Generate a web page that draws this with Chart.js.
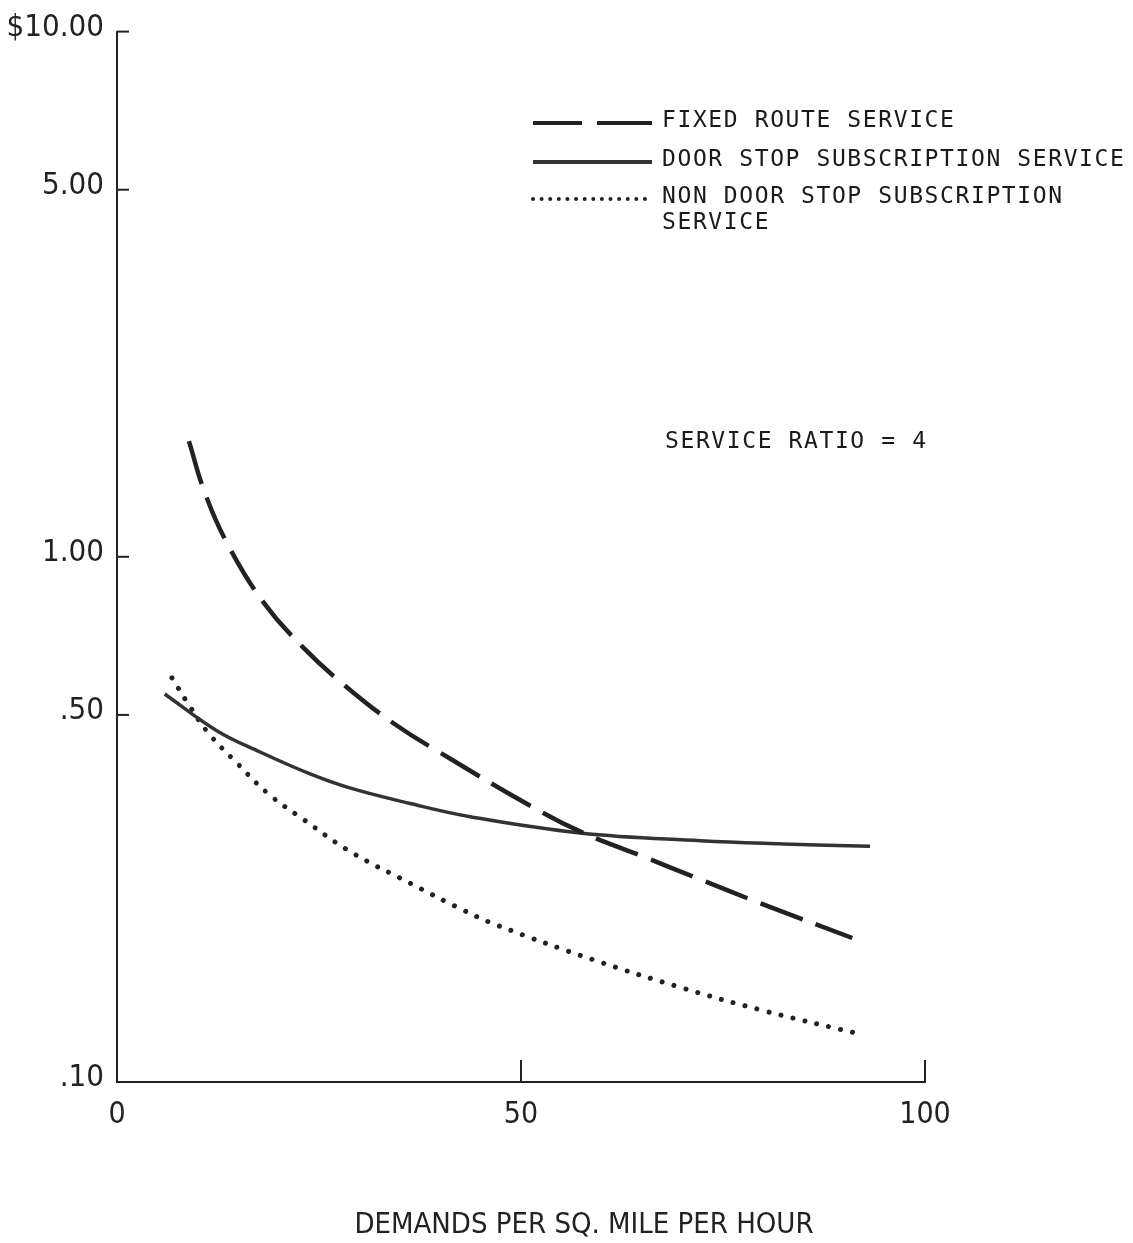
<!DOCTYPE html>
<html>
<head>
<meta charset="utf-8">
<title>Cost per demand vs demand density</title>
<script src="https://cdn.jsdelivr.net/npm/chart.js@4.4.0/dist/chart.umd.min.js"></script>
<style>
  html, body { margin: 0; padding: 0; background: #fff; }
</style>
</head>
<body>
<canvas id="myChart" width="1133" height="1243"></canvas>
<script>
// axis ticks
var xTicks = [0, 50, 100];
var yTicks = [0.1, 0.5, 1, 5, 10];
var yTickLabels = ['.10', '.50', '1.00', '5.00', '$10.00'];
var xTitle = 'DEMANDS PER SQ. MILE PER HOUR';
var noteText = 'SERVICE RATIO = 4';

// series names (\n = line break in the legend)
var seriesNames = ['FIXED ROUTE SERVICE', 'DOOR STOP SUBSCRIPTION SERVICE', 'NON DOOR STOP SUBSCRIPTION\nSERVICE'];

// fixed route service (dashed)
var fixedX = [8.9, 10.9, 13.7, 18.2, 23.0, 28.0, 34.3, 41.2, 51.1, 57.3, 65.3, 72.2, 79.6, 91.0];
var fixedY = [1.66, 1.32, 1.056, 0.816, 0.673, 0.572, 0.481, 0.413, 0.336, 0.300, 0.268, 0.243, 0.219, 0.188];

// door stop subscription service (solid)
var doorX = [5.9, 12.4, 17.7, 23.9, 28.8, 36.3, 43.7, 57.3, 72.2, 82.4, 93.2];
var doorY = [0.548, 0.466, 0.425, 0.386, 0.363, 0.339, 0.320, 0.298, 0.288, 0.284, 0.281];

// non door stop subscription service (dotted)
var nonDoorX = [6.8, 8.8, 11.3, 14.9, 18.7, 23.1, 28.8, 36.3, 42.7, 47.0, 58.9, 70.0, 79.8, 92.3];
var nonDoorY = [0.588, 0.525, 0.462, 0.404, 0.354, 0.316, 0.275, 0.239, 0.213, 0.199, 0.171, 0.151, 0.137, 0.123];

var ink = '#222';
var gothic = "'DejaVu Sans Condensed', 'DejaVu Sans', sans-serif";
var mono = "'DejaVu Sans Mono', monospace";

function toPoints(xs, ys) {
  var pts = [];
  for (var i = 0; i < xs.length; i++) {
    pts.push({ x: xs[i], y: ys[i] });
  }
  return pts;
}

// short tick marks drawn inside the plot, like the original
var inwardTicks = {
  id: 'inwardTicks',
  afterDraw: function (chart) {
    var ctx = chart.ctx;
    var area = chart.chartArea;
    ctx.save();
    ctx.strokeStyle = ink;
    ctx.lineWidth = 2;
    yTicks.forEach(function (v) {
      if (v === yTicks[0]) return;
      var y = chart.scales.y.getPixelForValue(v);
      ctx.beginPath();
      ctx.moveTo(area.left, y);
      ctx.lineTo(area.left + 12, y);
      ctx.stroke();
    });
    xTicks.forEach(function (v) {
      if (v === xTicks[0]) return;
      var x = chart.scales.x.getPixelForValue(v);
      ctx.beginPath();
      ctx.moveTo(x, area.bottom);
      ctx.lineTo(x, area.bottom - 22);
      ctx.stroke();
    });
    // x axis title sits right of the axis centre in the original
    ctx.font = '29px ' + gothic;
    ctx.fillStyle = ink;
    ctx.textAlign = 'center';
    ctx.textBaseline = 'middle';
    ctx.fillText(xTitle, 584, 1225);
    ctx.restore();
  }
};

// legend block and the "service ratio" note
var sideLegend = {
  id: 'sideLegend',
  afterDraw: function (chart) {
    var ctx = chart.ctx;
    var rows = [
      { sampleY: 123, textY: 121, dash: [49, 15, 55, 20], width: 4, cap: 'butt' },
      { sampleY: 162, textY: 160, dash: [], width: 4, cap: 'butt' },
      { sampleY: 199, textY: 197, dash: [0.01, 8.6], width: 4, cap: 'round' }
    ];
    ctx.save();
    ctx.font = '23px ' + mono;
    ctx.letterSpacing = '1.6px';
    ctx.fillStyle = '#1a1a1a';
    ctx.textBaseline = 'middle';
    ctx.textAlign = 'left';
    chart.data.datasets.forEach(function (ds, i) {
      var r = rows[i];
      ctx.beginPath();
      ctx.setLineDash(r.dash);
      ctx.lineCap = r.cap;
      ctx.lineWidth = r.width;
      ctx.strokeStyle = ds.borderColor;
      ctx.moveTo(533, r.sampleY);
      ctx.lineTo(652, r.sampleY);
      ctx.stroke();
      ds.label.split('\n').forEach(function (line, k) {
        ctx.fillText(line, 662, r.textY + k * 26);
      });
    });
    ctx.fillText(noteText, 665, 442);
    ctx.restore();
  }
};

const ctx = document.getElementById('myChart');

new Chart(ctx, {
  type: 'line',
  data: {
    datasets: [{
      label: seriesNames[0],
      data: toPoints(fixedX, fixedY),
      borderColor: ink,
      borderWidth: 4.5,
      borderDash: [45, 14],
      pointRadius: 0,
      fill: false,
      tension: 0.4
    }, {
      label: seriesNames[1],
      data: toPoints(doorX, doorY),
      borderColor: '#333',
      borderWidth: 3.5,
      pointRadius: 0,
      fill: false,
      tension: 0.4
    }, {
      label: seriesNames[2],
      data: toPoints(nonDoorX, nonDoorY),
      borderColor: ink,
      borderWidth: 5,
      borderDash: [0.01, 12.3],
      borderCapStyle: 'round',
      pointRadius: 0,
      fill: false,
      tension: 0.4
    }]
  },
  options: {
    responsive: false,
    animation: false,
    layout: { padding: { top: 29, right: 208, left: 0, bottom: 0 } },
    plugins: {
      legend: { display: false },
      tooltip: { enabled: false }
    },
    scales: {
      x: {
        type: 'linear',
        min: 0,
        max: 100,
        afterBuildTicks: function (scale) {
          scale.ticks = xTicks.map(function (v) { return { value: v }; });
        },
        afterFit: function (scale) { scale.height = 161; },
        ticks: {
          padding: 15,
          maxRotation: 0,
          color: ink,
          font: { family: gothic, size: 30 }
        },
        grid: { drawOnChartArea: false, drawTicks: false },
        border: { display: true, color: ink, width: 2 },
        title: { display: false }
      },
      y: {
        type: 'logarithmic',
        min: 0.1,
        max: 10,
        afterBuildTicks: function (scale) {
          scale.ticks = yTicks.map(function (v) { return { value: v }; });
        },
        afterFit: function (scale) { scale.width = 117; },
        ticks: {
          padding: 13,
          labelOffset: -4,
          color: ink,
          font: { family: gothic, size: 31 },
          callback: function (value) {
            var i = yTicks.indexOf(value);
            return i >= 0 ? yTickLabels[i] : '';
          }
        },
        grid: { drawOnChartArea: false, drawTicks: false },
        border: { display: true, color: ink, width: 2 }
      }
    }
  },
  plugins: [inwardTicks, sideLegend]
});
</script>
</body>
</html>
